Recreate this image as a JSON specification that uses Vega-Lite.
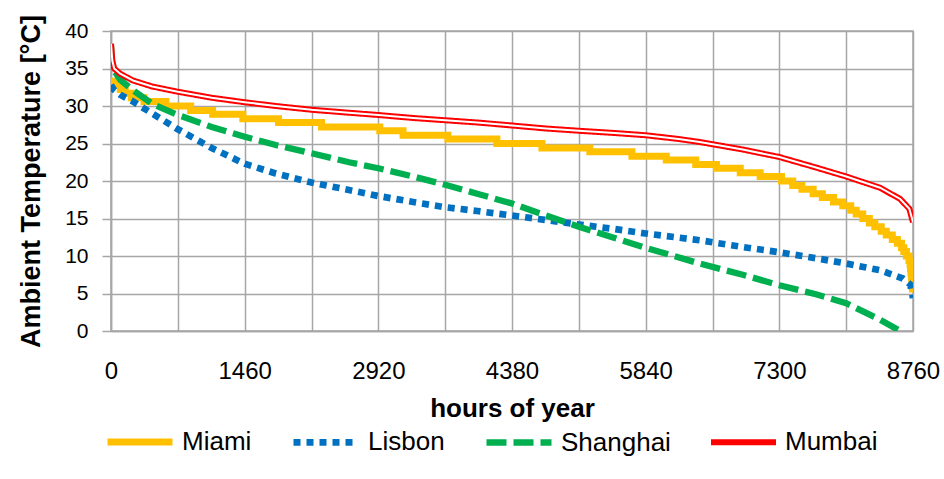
{
  "$schema": "https://vega.github.io/schema/vega-lite/v6.json",
  "autosize": {"type": "none"},
  "width": 802,
  "height": 300,
  "padding": {"left": 111, "top": 31, "right": 31, "bottom": 148},
  "background": "white",
  "datasets": {
    "miami": [
      {"city": "Miami", "h": 0, "t": 33.3}, {"city": "Miami", "h": 42, "t": 32.8}, {"city": "Miami", "h": 102, "t": 32.2},
      {"city": "Miami", "h": 156, "t": 31.7}, {"city": "Miami", "h": 221, "t": 31.1}, {"city": "Miami", "h": 361, "t": 30.6},
      {"city": "Miami", "h": 600, "t": 30.0}, {"city": "Miami", "h": 870, "t": 29.4}, {"city": "Miami", "h": 1110, "t": 28.9},
      {"city": "Miami", "h": 1440, "t": 28.3}, {"city": "Miami", "h": 1830, "t": 27.8}, {"city": "Miami", "h": 2300, "t": 27.2},
      {"city": "Miami", "h": 2936, "t": 26.7}, {"city": "Miami", "h": 3190, "t": 26.1}, {"city": "Miami", "h": 3680, "t": 25.6},
      {"city": "Miami", "h": 4215, "t": 25.0}, {"city": "Miami", "h": 4707, "t": 24.4}, {"city": "Miami", "h": 5230, "t": 23.9},
      {"city": "Miami", "h": 5690, "t": 23.3}, {"city": "Miami", "h": 6065, "t": 22.8}, {"city": "Miami", "h": 6387, "t": 22.2},
      {"city": "Miami", "h": 6613, "t": 21.7}, {"city": "Miami", "h": 6873, "t": 21.1}, {"city": "Miami", "h": 7091, "t": 20.6},
      {"city": "Miami", "h": 7324, "t": 20.0}, {"city": "Miami", "h": 7446, "t": 19.4}, {"city": "Miami", "h": 7547, "t": 18.9},
      {"city": "Miami", "h": 7669, "t": 18.3}, {"city": "Miami", "h": 7770, "t": 17.8}, {"city": "Miami", "h": 7892, "t": 17.2},
      {"city": "Miami", "h": 7993, "t": 16.7}, {"city": "Miami", "h": 8080, "t": 16.1}, {"city": "Miami", "h": 8140, "t": 15.6},
      {"city": "Miami", "h": 8211, "t": 15.0}, {"city": "Miami", "h": 8283, "t": 14.4}, {"city": "Miami", "h": 8343, "t": 13.9},
      {"city": "Miami", "h": 8413, "t": 13.3}, {"city": "Miami", "h": 8468, "t": 12.8}, {"city": "Miami", "h": 8534, "t": 12.2},
      {"city": "Miami", "h": 8589, "t": 11.7}, {"city": "Miami", "h": 8635, "t": 11.1}, {"city": "Miami", "h": 8659, "t": 10.6},
      {"city": "Miami", "h": 8688, "t": 10.0}, {"city": "Miami", "h": 8716, "t": 9.4}, {"city": "Miami", "h": 8728, "t": 8.9},
      {"city": "Miami", "h": 8733, "t": 8.3}, {"city": "Miami", "h": 8737, "t": 7.8}, {"city": "Miami", "h": 8742, "t": 7.2},
      {"city": "Miami", "h": 8746, "t": 6.7}, {"city": "Miami", "h": 8750, "t": 6.1}, {"city": "Miami", "h": 8755, "t": 5.6},
      {"city": "Miami", "h": 8760, "t": 5.6}
    ],
    "others": [
      {"city": "Lisbon", "h": 0, "t": 32.8}, {"city": "Lisbon", "h": 30, "t": 32.2}, {"city": "Lisbon", "h": 100, "t": 31.5},
      {"city": "Lisbon", "h": 240, "t": 30.6}, {"city": "Lisbon", "h": 450, "t": 29.0}, {"city": "Lisbon", "h": 730, "t": 26.9},
      {"city": "Lisbon", "h": 1100, "t": 24.4}, {"city": "Lisbon", "h": 1460, "t": 22.3}, {"city": "Lisbon", "h": 1800, "t": 21.0},
      {"city": "Lisbon", "h": 2190, "t": 19.8}, {"city": "Lisbon", "h": 2600, "t": 18.8}, {"city": "Lisbon", "h": 2920, "t": 18.0},
      {"city": "Lisbon", "h": 3300, "t": 17.2}, {"city": "Lisbon", "h": 3650, "t": 16.5}, {"city": "Lisbon", "h": 4000, "t": 16.0},
      {"city": "Lisbon", "h": 4380, "t": 15.4}, {"city": "Lisbon", "h": 4750, "t": 14.8}, {"city": "Lisbon", "h": 5110, "t": 14.2},
      {"city": "Lisbon", "h": 5500, "t": 13.6}, {"city": "Lisbon", "h": 5840, "t": 13.0}, {"city": "Lisbon", "h": 6430, "t": 12.1},
      {"city": "Lisbon", "h": 6900, "t": 11.2}, {"city": "Lisbon", "h": 7300, "t": 10.5}, {"city": "Lisbon", "h": 7700, "t": 9.7},
      {"city": "Lisbon", "h": 8030, "t": 9.0}, {"city": "Lisbon", "h": 8400, "t": 8.1}, {"city": "Lisbon", "h": 8650, "t": 7.0},
      {"city": "Lisbon", "h": 8730, "t": 6.2}, {"city": "Lisbon", "h": 8760, "t": 4.4},
      {"city": "Shanghai", "h": 0, "t": 38.0}, {"city": "Shanghai", "h": 10, "t": 36.0}, {"city": "Shanghai", "h": 30, "t": 34.8},
      {"city": "Shanghai", "h": 100, "t": 33.5}, {"city": "Shanghai", "h": 240, "t": 32.1}, {"city": "Shanghai", "h": 450, "t": 30.3},
      {"city": "Shanghai", "h": 730, "t": 28.8}, {"city": "Shanghai", "h": 1100, "t": 27.2}, {"city": "Shanghai", "h": 1460, "t": 25.9},
      {"city": "Shanghai", "h": 1800, "t": 24.8}, {"city": "Shanghai", "h": 2190, "t": 23.7}, {"city": "Shanghai", "h": 2600, "t": 22.5},
      {"city": "Shanghai", "h": 2920, "t": 21.7}, {"city": "Shanghai", "h": 3300, "t": 20.6}, {"city": "Shanghai", "h": 3650, "t": 19.5},
      {"city": "Shanghai", "h": 4000, "t": 18.3}, {"city": "Shanghai", "h": 4380, "t": 17.0}, {"city": "Shanghai", "h": 4750, "t": 15.4},
      {"city": "Shanghai", "h": 5110, "t": 13.9}, {"city": "Shanghai", "h": 5500, "t": 12.4}, {"city": "Shanghai", "h": 5840, "t": 11.1},
      {"city": "Shanghai", "h": 6430, "t": 9.0}, {"city": "Shanghai", "h": 6900, "t": 7.5}, {"city": "Shanghai", "h": 7300, "t": 6.1},
      {"city": "Shanghai", "h": 7700, "t": 4.9}, {"city": "Shanghai", "h": 8030, "t": 3.7}, {"city": "Shanghai", "h": 8400, "t": 1.5},
      {"city": "Shanghai", "h": 8620, "t": 0.0}, {"city": "Shanghai", "h": 8760, "t": -1.5},
      {"city": "Mumbai", "h": 0, "t": 38.3}, {"city": "Mumbai", "h": 15, "t": 36.0}, {"city": "Mumbai", "h": 35, "t": 35.0},
      {"city": "Mumbai", "h": 100, "t": 34.3}, {"city": "Mumbai", "h": 240, "t": 33.4}, {"city": "Mumbai", "h": 450, "t": 32.6},
      {"city": "Mumbai", "h": 730, "t": 31.9}, {"city": "Mumbai", "h": 1100, "t": 31.1}, {"city": "Mumbai", "h": 1460, "t": 30.5},
      {"city": "Mumbai", "h": 1800, "t": 30.0}, {"city": "Mumbai", "h": 2190, "t": 29.5}, {"city": "Mumbai", "h": 2600, "t": 29.1},
      {"city": "Mumbai", "h": 2920, "t": 28.8}, {"city": "Mumbai", "h": 3300, "t": 28.4}, {"city": "Mumbai", "h": 3650, "t": 28.1},
      {"city": "Mumbai", "h": 4000, "t": 27.8}, {"city": "Mumbai", "h": 4380, "t": 27.4}, {"city": "Mumbai", "h": 4750, "t": 27.0},
      {"city": "Mumbai", "h": 5110, "t": 26.7}, {"city": "Mumbai", "h": 5500, "t": 26.4}, {"city": "Mumbai", "h": 5840, "t": 26.1},
      {"city": "Mumbai", "h": 6200, "t": 25.6}, {"city": "Mumbai", "h": 6430, "t": 25.2}, {"city": "Mumbai", "h": 6900, "t": 24.2},
      {"city": "Mumbai", "h": 7300, "t": 23.2}, {"city": "Mumbai", "h": 7700, "t": 21.8}, {"city": "Mumbai", "h": 8030, "t": 20.6},
      {"city": "Mumbai", "h": 8400, "t": 19.1}, {"city": "Mumbai", "h": 8620, "t": 17.6}, {"city": "Mumbai", "h": 8720, "t": 16.3},
      {"city": "Mumbai", "h": 8760, "t": 14.5}
    ]
  },
  "encoding": {
    "x": {
      "field": "h", "type": "quantitative",
      "scale": {"domain": [0, 8760], "nice": false, "zero": false},
      "axis": {
        "values": [0, 730, 1460, 2190, 2920, 3650, 4380, 5110, 5840, 6570, 7300, 8030, 8760],
        "format": "d",
        "labelExpr": "datum.value % 1460 === 0 ? datum.label : ''",
        "title": "hours of year",
        "ticks": false,
        "labelFlush": false,
        "labelOverlap": false,
        "labelPadding": 28,
        "labelFontSize": 24,
        "labelDx": -5,
        "titleFontSize": 26,
        "titleFontWeight": "bold",
        "titlePadding": 12
      }
    },
    "y": {
      "field": "t", "type": "quantitative",
      "scale": {"domain": [0, 40], "nice": false},
      "axis": {
        "values": [0, 5, 10, 15, 20, 25, 30, 35, 40],
        "title": "Ambient Temperature [°C]",
        "tickSize": 9,
        "labelPadding": 14,
        "labelFontSize": 21,
        "titleFontSize": 27,
        "titleFontWeight": "bold",
        "titlePadding": 19
      }
    }
  },
  "layer": [
    {
      "data": {"name": "miami"},
      "mark": {"type": "line", "interpolate": "step-after", "strokeWidth": 7, "clip": true},
      "encoding": {
        "color": {
          "field": "city", "type": "nominal",
          "scale": {"domain": ["Miami", "Lisbon", "Shanghai", "Mumbai"], "range": ["#FFC000", "#0070C0", "#00B050", "#FF0000"]},
          "legend": {
            "orient": "none", "legendX": -7, "legendY": 375, "direction": "horizontal", "title": null,
            "symbolType": "stroke", "symbolSize": 4225, "symbolStrokeWidth": 7,
            "labelFontSize": 26, "labelColor": "black", "labelOffset": 6, "columnPadding": 28
          }
        },
        "strokeDash": {
          "field": "city", "type": "nominal",
          "scale": {"domain": ["Miami", "Lisbon", "Shanghai", "Mumbai"], "range": [[1, 0], [7, 6], [20, 7], [1, 0]]}
        }
      }
    },
    {
      "data": {"name": "others"},
      "mark": {"type": "line", "clip": true},
      "encoding": {
        "color": {"field": "city", "type": "nominal"},
        "strokeDash": {"field": "city", "type": "nominal"},
        "strokeWidth": {
          "field": "city", "type": "nominal",
          "scale": {"domain": ["Miami", "Lisbon", "Shanghai", "Mumbai"], "range": [7, 6, 7, 6]},
          "legend": null
        }
      }
    },
    {
      "data": {"name": "others"},
      "transform": [{"filter": "datum.city === 'Mumbai'"}],
      "mark": {"type": "line", "color": "white", "strokeWidth": 2, "clip": true},
      "encoding": {
        "strokeOpacity": {
          "field": "city", "type": "nominal",
          "scale": {"domain": ["Mumbai"], "range": [1]},
          "legend": {
            "orient": "none", "legendX": 603, "legendY": 380, "direction": "horizontal", "title": null,
            "symbolType": "stroke", "symbolSize": 3600, "symbolStrokeWidth": 2, "symbolStrokeColor": "white",
            "labelFontSize": 26, "labelOpacity": 0, "labelOffset": 6
          }
        }
      }
    }
  ],
  "config": {
    "font": "Liberation Sans",
    "view": {"stroke": "#A6A6A6", "strokeWidth": 1.5},
    "axis": {
      "labelFont": "Liberation Sans",
      "titleFont": "Liberation Sans",
      "labelColor": "black",
      "titleColor": "black",
      "gridColor": "#A6A6A6",
      "gridWidth": 1.5,
      "domainColor": "#A6A6A6",
      "domainWidth": 1.5,
      "tickColor": "#A6A6A6",
      "tickWidth": 1.5
    },
    "legend": {"labelFont": "Liberation Sans"}
  }
}
